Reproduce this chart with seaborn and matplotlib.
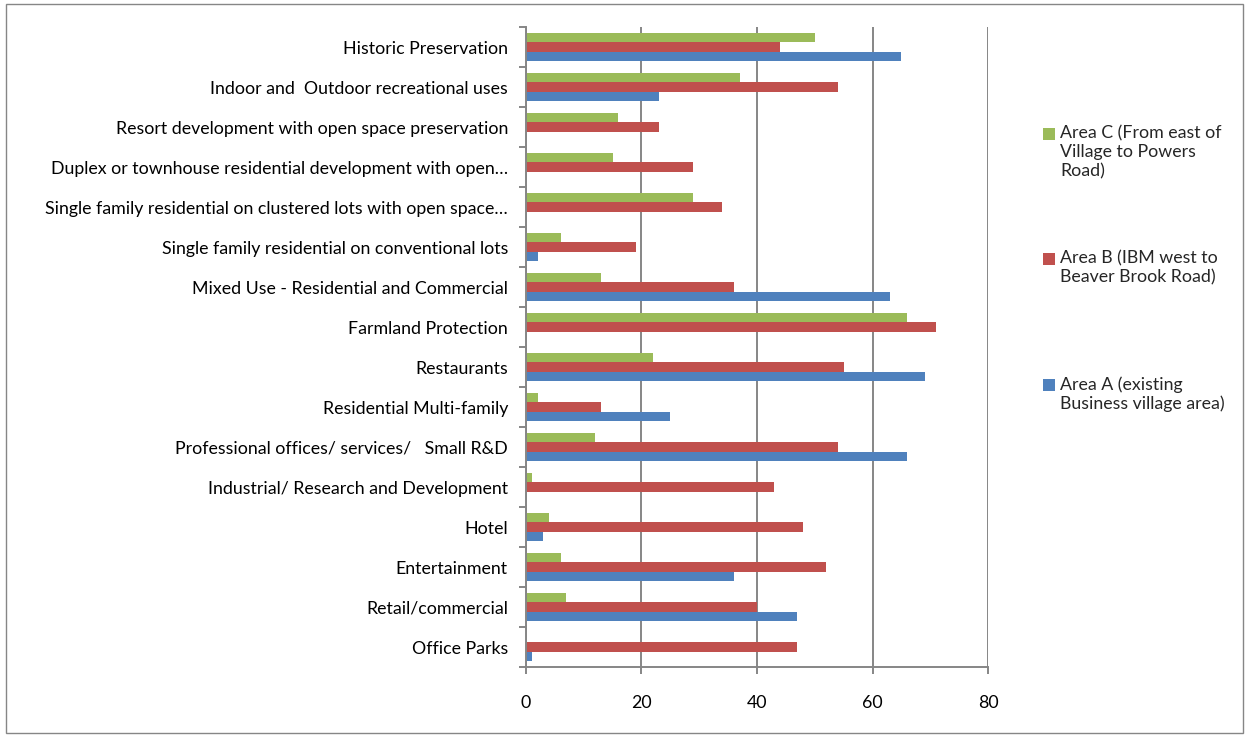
import pandas as pd
import matplotlib.pyplot as plt
import seaborn as sns
import numpy as np
from matplotlib.patches import Rectangle

# categories, listed top to bottom as in the chart
categories = [
    "Historic Preservation",
    "Indoor and  Outdoor recreational uses",
    "Resort development with open space preservation",
    "Duplex or townhouse residential development with open…",
    "Single family residential on clustered lots with open space…",
    "Single family residential on conventional lots",
    "Mixed Use - Residential and Commercial",
    "Farmland Protection",
    "Restaurants",
    "Residential Multi-family",
    "Professional offices/ services/   Small R&D",
    "Industrial/ Research and Development",
    "Hotel",
    "Entertainment",
    "Retail/commercial",
    "Office Parks",
]

area_a = [65, 23, 0, 0, 0, 2, 63, 0, 69, 25, 66, 0, 3, 36, 47, 1]
area_b = [44, 54, 23, 29, 34, 19, 36, 71, 55, 13, 54, 43, 48, 52, 40, 47]
area_c = [50, 37, 16, 15, 29, 6, 13, 66, 22, 2, 12, 1, 4, 6, 7, 0]

label_a = "Area A (existing\nBusiness village area)"
label_b = "Area B (IBM west to\nBeaver Brook Road)"
label_c = "Area C (From east of\nVillage to Powers\nRoad)"

x_ticks = [0, 20, 40, 60, 80]

# long table for seaborn
df = pd.DataFrame({"category": categories, label_a: area_a, label_b: area_b, label_c: area_c})
long_df = df.melt(id_vars="category", var_name="area", value_name="value")

sns.set_style("white")
plt.rcParams['font.family'] = ['Lato', 'DejaVu Sans']
fs = 12.8

colors = {label_c: "#9BBB59", label_b: "#C0504D", label_a: "#4F81BD"}
grey = "#868686"

fig = plt.figure(figsize=(12.49, 7.38), dpi=100)
ax = fig.add_axes([0.4211, 0.0962, 0.3700, 0.8672])

sns.barplot(data=long_df, x="value", y="category", hue="area", orient="h",
            order=categories, hue_order=[label_c, label_b, label_a],
            palette=colors, saturation=1, width=0.68, errorbar=None,
            linewidth=0, legend=False, ax=ax)

ax.set_xlim(0, 80)
ax.set_xticks(x_ticks)
ax.set_xlabel("")
ax.set_ylabel("")
ax.grid(axis="x", color=grey, linewidth=1.4)
ax.set_axisbelow(True)

for side in ["top", "right"]:
    ax.spines[side].set_visible(False)
for side in ["left", "bottom"]:
    ax.spines[side].set_color(grey)
    ax.spines[side].set_linewidth(1.4)

ax.tick_params(axis="x", direction="out", length=5, color=grey, width=1.4,
               labelsize=fs, pad=15, labelcolor="black", bottom=True)
ax.tick_params(axis="y", which="major", length=0, labelsize=fs, pad=13, labelcolor="black")
ax.set_yticks(np.arange(-0.5, len(categories), 1), minor=True)
ax.tick_params(axis="y", which="minor", direction="out", length=5, color=grey, width=1.4, left=True)

# legend on the right: square aligned with the first text line, like Excel
W, H = 1249, 738
legend_items = [(label_c, 128), (label_b, 253), (label_a, 379)]
for lab, top_px in legend_items:
    fig.add_artist(Rectangle((1043 / W, 1 - (top_px + 12) / H), 12 / W, 12 / H,
                             transform=fig.transFigure, facecolor=colors[lab],
                             edgecolor="none"))
    fig.text(1060 / W, 1 - (top_px - 3) / H, lab, fontsize=fs, va="top", ha="left",
             linespacing=1.22)

# outer chart frame
fig.add_artist(Rectangle((0.0048, 0.0068), 0.990, 0.988, transform=fig.transFigure,
                         fill=False, edgecolor=grey, linewidth=1))

plt.savefig("out.png", dpi=100)
